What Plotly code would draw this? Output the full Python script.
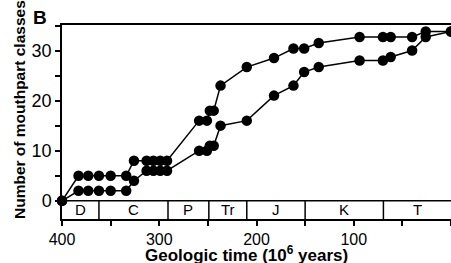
import plotly.graph_objects as go

# Data
ages = [400, 383, 373, 362, 350, 334, 326, 313, 306, 299, 292, 259, 251, 248, 244,
        237, 210, 182, 162, 151, 136, 94, 70, 62, 40, 26, 0]
upper = [0, 5, 5, 5, 5, 5, 8, 8, 8, 8, 8, 16, 16, 18, 18,
         23, 26.7, 28.5, 30.4, 30.4, 31.5, 32.7, 32.7, 32.7, 32.7, 33.8, 33.8]
lower = [0, 2, 2, 2, 2, 2, 4, 6, 6, 6, 6, 10, 10, 11, 11,
         15, 16, 21, 23, 25.7, 26.7, 28, 28, 28.7, 30, 32.7, 33.8]

periods = ["D", "C", "P", "Tr", "J", "K", "T"]
period_bounds = [400, 362, 291, 249, 210, 150, 69.5, 0]

FONT = "Arial, 'Liberation Sans', Helvetica, sans-serif"
YMIN, YMAX = -3.64, 35.1
W, H = 451, 263
ML, MR, MT, MB = 62, 0, 25, 44

fig = go.Figure()
for ys in (upper, lower):
    fig.add_trace(go.Scatter(
        x=ages, y=ys, mode="lines+markers",
        line=dict(color="black", width=1.5),
        marker=dict(color="black", size=10.5),
        showlegend=False, cliponaxis=False))

shapes = [dict(type="line", xref="x", yref="y", x0=400, x1=0, y0=0, y1=0,
               line=dict(color="black", width=1.5))]
for b in period_bounds[1:-1]:
    shapes.append(dict(type="line", xref="x", yref="y", x0=b, x1=b, y0=0, y1=YMIN,
                       line=dict(color="black", width=1.5)))

annotations = []
for i, p in enumerate(periods):
    c = (period_bounds[i] + period_bounds[i + 1]) / 2
    annotations.append(dict(x=c, y=YMIN / 2, xref="x", yref="y", text=p,
                            xanchor="center", yanchor="middle",
                            showarrow=False, font=dict(size=15, color="black", family=FONT)))

pw, ph = W - ML - MR, H - MT - MB
def px(xp):
    return (xp - ML) / pw
def py(yp):
    return ((H - yp) - MB) / ph

annotations += [
    dict(x=px(246), y=py(254), xref="paper", yref="paper",
         xanchor="center", yanchor="middle",
         text="<b>Geologic time (10<sup>6</sup> years)</b>", showarrow=False,
         font=dict(size=17, color="black", family=FONT)),
    dict(x=px(19), y=py(110), xref="paper", yref="paper",
         xanchor="center", yanchor="middle",
         text="<b>Number of mouthpart classes</b>", textangle=-90,
         showarrow=False, font=dict(size=15.5, color="black", family=FONT)),
    dict(x=px(40), y=py(18), xref="paper", yref="paper",
         xanchor="center", yanchor="middle",
         text="<b>B</b>", showarrow=False,
         font=dict(size=19, color="black", family=FONT)),
]

axis_common = dict(showgrid=False, zeroline=False, automargin=False,
                   ticks="outside", ticklen=5, tickwidth=1.5, tickcolor="black",
                   showline=True, linecolor="black", linewidth=1.5, mirror=True)

fig.update_layout(
    width=W, height=H,
    margin=dict(l=ML, r=MR, t=MT, b=MB, autoexpand=False),
    paper_bgcolor="white", plot_bgcolor="white",
    font=dict(family=FONT, color="black"),
    xaxis=dict(range=[400, 0], tick0=0, dtick=100,
               minor=dict(dtick=50, ticks="outside", ticklen=5, tickwidth=1.5,
                          tickcolor="black", showgrid=False),
               tickfont=dict(size=16, color="black", family=FONT),
               **axis_common),
    yaxis=dict(range=[YMIN, YMAX], tick0=0, dtick=10,
               minor=dict(dtick=5, ticks="outside", ticklen=5, tickwidth=1.5,
                          tickcolor="black", showgrid=False),
               tickfont=dict(size=18, color="black", family=FONT),
               **axis_common),
    shapes=shapes,
    annotations=annotations,
)

fig.write_html(
    "out.html",
    config={"displayModeBar": False},
    post_script="document.body.style.margin='0';document.body.style.overflow='hidden';",
)
